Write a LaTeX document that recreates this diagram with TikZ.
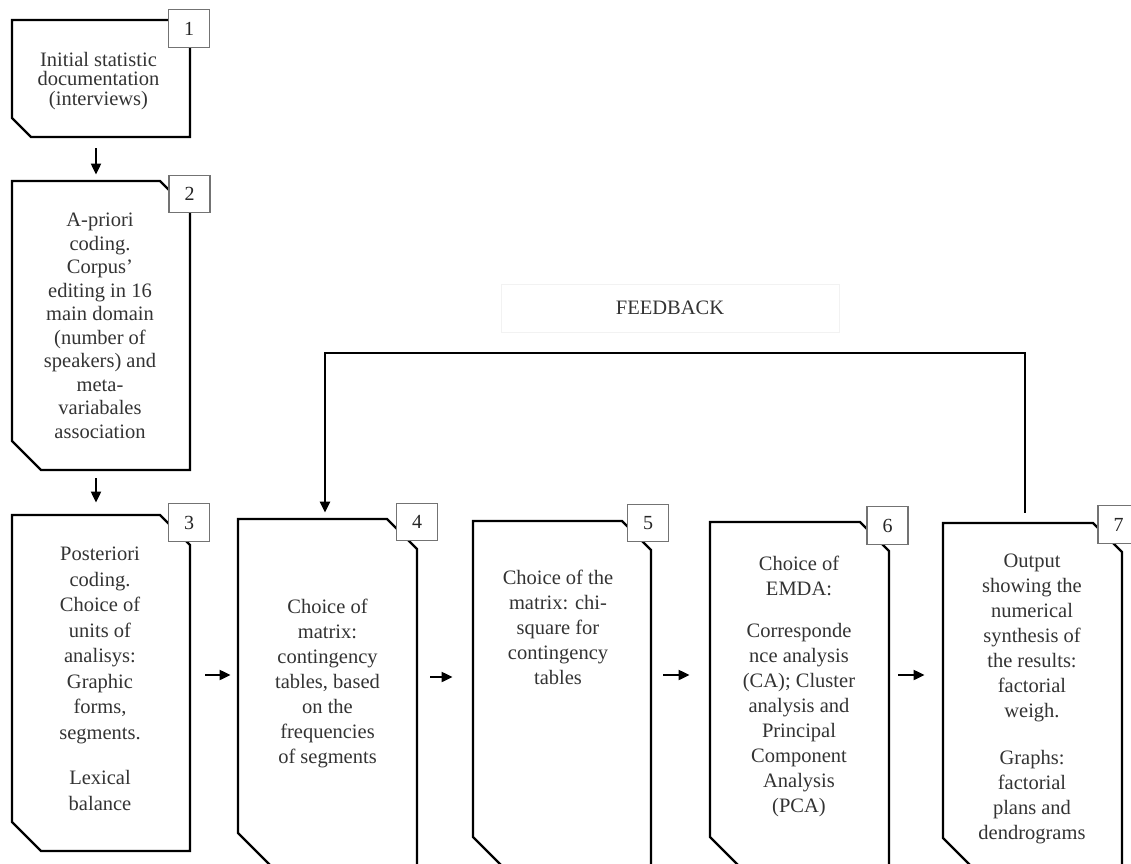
\documentclass[tikz,border=0pt]{standalone}
\usepackage{fontspec}
\setmainfont{Liberation Serif}
\usetikzlibrary{arrows.meta,fit,calc}

% Chamfered step box: name, left, top, right, bottom, top-right cut, bottom-left cut
\newcommand\chambox[7]{%
  \draw[outline] (#2,#3) -- ({#4-#6},#3) -- (#4,{#3+#6}) -- (#4,#5)
    -- ({#2+#7},#5) -- (#2,{#5-#7}) -- cycle;
  \node[frame, fit={(#2,#3) (#4,#5)}] (#1) {};
}

\begin{document}
\begin{tikzpicture}[x=0.5pt,y=-0.5pt,
  outline/.style={draw=black, line width=1.1pt, line join=miter},
  frame/.style={draw=none, inner sep=0pt},
  numbox/.style={draw=black!55, fill=white, line width=0.6pt, inner sep=0pt,
    minimum width=20.5pt, minimum height=18.75pt,
    font=\fontsize{10}{12}\selectfont, text=black!85},
  txt/.style={align=center, inner sep=0pt, text=black!80},
  arr/.style={-{Triangle[length=5.5pt,width=5pt]}, line width=1pt},
]
\useasboundingbox (0,0) rectangle (1131,863);
\clip (0,0) rectangle (1131,863);

% step boxes (the lower row runs past the bottom edge)
\chambox{b1}{12}{20}{190}{137}{0}{19}
\chambox{b2}{12}{181}{190}{470}{30}{29}
\chambox{b3}{12}{515}{190}{851}{30}{29}
\chambox{b4}{238}{519}{417}{872}{30}{39}
\chambox{b5}{473}{521}{651}{872}{29}{35}
\chambox{b6}{710}{522}{889}{872}{29}{35}
\chambox{b7}{943}{523}{1122}{872}{29}{34}

% step numbers
\node[numbox] (n1) at (189,28.5) {1};
\node[numbox] (n2) at (189.5,194) {2};
\node[numbox] (n3) at (189,522.5) {3};
\node[numbox] (n4) at (417,522) {4};
\node[numbox] (n5) at (648,523) {5};
\node[numbox] (n6) at (887.5,525.5) {6};
\node[numbox] (n7) at (1118.5,524.5) {7};

% step texts
\node[txt, font=\fontsize{10.25}{9.75}\selectfont] (t1) at (98.5,81)
  {Initial statistic\\documentation\\(interviews)};
\node[txt, font=\fontsize{10.25}{11.75}\selectfont] (t2) at (100,326)
  {A-priori\\coding.\\Corpus’\\editing in 16\\main domain\\(number of\\speakers) and\\meta-\\variabales\\association};
\node[txt, font=\fontsize{10.25}{12.75}\selectfont] (t3) at (100,679)
  {Posteriori\\coding.\\Choice of\\units of\\analisys:\\Graphic\\forms,\\segments.\\[10pt]Lexical\\balance};
\node[txt, font=\fontsize{10.25}{12.5}\selectfont] (t4) at (327.5,683)
  {Choice of\\matrix:\\contingency\\tables, based\\on the\\frequencies\\of segments};
\node[txt, font=\fontsize{10.25}{12.5}\selectfont] (t5) at (558,627.5)
  {Choice of the\\matrix: chi-\\square for\\contingency\\tables};
\node[txt, font=\fontsize{10.25}{12.5}\selectfont] (t6) at (799,686)
  {Choice of\\EMDA:\\[8.5pt]Corresponde\\nce analysis\\(CA); Cluster\\analysis and\\Principal\\Component\\Analysis\\(PCA)};
\node[txt, font=\fontsize{10.25}{12.5}\selectfont] (t7) at (1032,698.5)
  {Output\\showing the\\numerical\\synthesis of\\the results:\\factorial\\weigh.\\[11pt]Graphs:\\factorial\\plans and\\dendrograms};

% feedback label
\node[draw=black!5, line width=0.4pt, minimum width=169pt, minimum height=24pt,
  font=\fontsize{10.25}{12}\selectfont, text=black!80] (fbl) at (670,308) {FEEDBACK};

% vertical flow
\draw[arr, shorten <=5.5pt, shorten >=3pt] ([xshift=-2.5pt]b1.south) -- ([xshift=-2.5pt]b2.north);
\draw[arr, shorten <=4pt, shorten >=6pt] ([xshift=-2.5pt]b2.south) -- ([xshift=-2.5pt]b3.north);

% horizontal flow
\coordinate (ya) at (0,675);
\coordinate (yb) at (0,677);
\draw[arr, shorten <=7.5pt, shorten >=3.5pt] (b3.east |- ya) -- (b4.west |- ya);
\draw[arr, shorten <=6.5pt, shorten >=10pt] (b4.east |- yb) -- (b5.west |- yb);
\draw[arr, shorten <=6pt, shorten >=10pt] (b5.east |- ya) -- (b6.west |- ya);
\draw[arr, shorten <=4.5pt, shorten >=9pt] (b6.east |- ya) -- (b7.west |- ya);

% feedback loop
\coordinate (fb) at (0,353);
\draw[arr, line width=1.1pt, shorten <=5pt, shorten >=3pt]
  ([xshift=-3.75pt]b7.north) -- ([xshift=-3.75pt]b7.north |- fb)
  -- ([xshift=-1.25pt]b4.north |- fb) -- ([xshift=-1.25pt]b4.north);
\end{tikzpicture}
\end{document}
